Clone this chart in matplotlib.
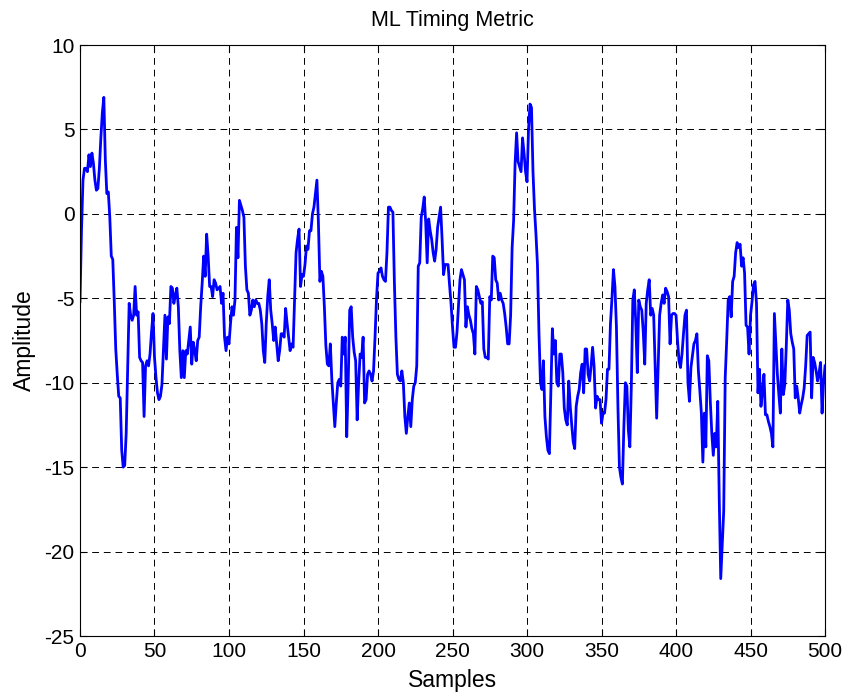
import numpy as np
import matplotlib
matplotlib.use('Agg')
import matplotlib.pyplot as plt

plt.rcParams['font.family'] = ['Liberation Sans', 'DejaVu Sans']
plt.rcParams['axes.unicode_minus'] = False

# ML timing metric, one value per sample
amp = [
    -5.2, -1.0, 2.0, 2.7, 2.7, 2.5, 3.5, 2.8, 3.6, 3.0,
    2.0, 1.4, 1.5, 2.7, 4.5, 6.0, 6.9, 3.2, 1.2, 1.3,
    -0.2, -2.5, -2.7, -5.2, -8.0, -9.5, -10.8, -10.9, -14.0, -15.0,
    -14.9, -13.0, -9.1, -5.3, -6.0, -6.3, -6.0, -4.3, -6.0, -5.8,
    -8.5, -8.7, -8.8, -12.0, -9.0, -8.7, -9.0, -8.3, -7.0, -5.9,
    -8.5, -9.7, -10.6, -11.0, -10.8, -10.1, -8.1, -6.0, -8.6, -6.1,
    -6.5, -4.3, -4.4, -5.3, -4.8, -4.4, -5.5, -8.1, -9.7, -8.1,
    -9.7, -8.1, -8.3, -7.5, -6.7, -8.9, -7.6, -8.1, -8.7, -7.5,
    -7.3, -5.5, -4.1, -2.5, -3.7, -1.2, -2.5, -4.3, -4.3, -4.9,
    -3.9, -4.1, -4.5, -4.4, -4.3, -5.3, -4.7, -7.3, -8.1, -7.3,
    -7.7, -6.5, -5.5, -6.0, -5.1, -0.8, -2.6, 0.8, 0.5, 0.2,
    -0.2, -3.1, -4.5, -4.7, -6.0, -5.7, -5.1, -5.5, -5.1, -5.3,
    -5.3, -5.7, -6.5, -8.1, -8.8, -6.5, -4.9, -3.9, -5.7, -6.5,
    -7.5, -6.7, -7.7, -8.7, -8.1, -7.1, -7.1, -7.3, -5.6, -6.5,
    -7.3, -8.1, -7.7, -7.9, -5.1, -2.3, -1.5, -0.9, -4.3, -3.6,
    -3.7, -3.0, -1.9, -2.1, -1.0, -1.0, 0.0, 0.4, 1.2, 2.0,
    -0.5, -4.0, -3.4, -3.7, -5.5, -7.8, -8.9, -9.0, -7.7, -9.8,
    -11.2, -12.6, -11.2, -10.0, -9.8, -10.2, -7.3, -8.3, -7.3, -13.2,
    -10.0, -5.7, -5.5, -7.3, -8.2, -8.7, -12.2, -10.0, -8.3, -8.5,
    -7.3, -11.2, -11.0, -9.5, -9.3, -9.5, -9.9, -9.3, -7.3, -5.0,
    -3.5, -3.4, -3.2, -3.7, -3.9, -4.0, -2.3, 0.4, 0.4, 0.2,
    0.1, -4.1, -7.3, -9.5, -9.8, -9.9, -9.3, -10.0, -12.0, -13.0,
    -12.0, -11.2, -12.6, -11.0, -10.2, -10.0, -9.0, -3.1, -2.9, -0.2,
    0.3, 1.0, -0.5, -2.9, -0.3, -1.0, -1.5, -2.3, -2.8, -2.1,
    -0.8, -0.2, 0.4, -1.5, -3.6, -3.0, -3.0, -3.0, -4.2, -5.3,
    -6.7, -7.9, -7.9, -7.0, -5.5, -3.9, -3.3, -3.6, -3.9, -6.7,
    -5.5, -6.0, -6.3, -6.8, -7.1, -8.3, -4.3, -4.5, -4.9, -5.3,
    -5.2, -8.0, -8.5, -8.5, -8.6, -4.9, -5.1, -2.5, -2.6, -3.9,
    -4.1, -5.1, -4.7, -5.1, -5.3, -5.9, -6.7, -7.7, -7.7, -6.0,
    -2.0, -0.4, 3.0, 4.8, 3.1, 2.8, 2.5, 4.5, 3.6, 2.5,
    1.9, 5.0, 6.5, 6.3, 2.5, 0.3, -1.2, -3.0, -7.0, -10.0,
    -10.4, -8.7, -12.0, -13.2, -14.0, -14.2, -10.5, -6.8, -8.3, -7.5,
    -10.0, -10.2, -8.3, -8.3, -9.4, -11.5, -12.2, -12.5, -9.9, -11.4,
    -12.5, -13.5, -13.9, -11.4, -10.8, -10.4, -9.4, -8.9, -10.6, -8.0,
    -8.0, -9.5, -9.9, -9.0, -7.9, -9.0, -11.5, -10.8, -11.0, -11.0,
    -12.4, -11.8, -11.8, -11.0, -9.2, -9.2, -6.5, -5.0, -3.3, -4.3,
    -6.7, -11.4, -15.0, -15.6, -16.0, -12.6, -10.0, -10.2, -12.8, -13.8,
    -10.2, -5.1, -4.5, -6.5, -9.4, -5.1, -5.5, -5.7, -7.0, -8.9,
    -5.3, -4.5, -3.9, -6.0, -5.6, -6.0, -9.1, -12.1, -9.0, -6.0,
    -5.3, -4.8, -5.3, -4.4, -4.6, -4.9, -7.7, -6.0, -5.9, -5.9,
    -6.0, -7.5, -8.7, -9.1, -8.3, -7.1, -6.0, -5.7, -10.0, -11.1,
    -9.1, -8.4, -7.7, -7.5, -7.1, -9.3, -10.5, -11.8, -14.7, -11.8,
    -13.8, -8.4, -8.7, -11.1, -13.0, -14.3, -13.0, -13.8, -11.1, -16.9,
    -21.6, -19.6, -17.6, -9.7, -7.5, -5.1, -4.9, -6.1, -4.0, -3.7,
    -2.3, -1.7, -2.0, -1.8, -3.1, -2.6, -3.5, -6.6, -6.7, -8.3,
    -6.0, -5.2, -4.2, -4.0, -5.3, -10.6, -9.2, -11.4, -10.5, -9.5,
    -11.9, -11.9, -12.3, -12.6, -13.0, -13.8, -5.9, -7.7, -9.5, -10.7,
    -11.8, -8.0, -10.7, -10.1, -7.8, -5.1, -5.7, -7.1, -7.6, -8.0,
    -10.9, -10.2, -10.9, -11.8, -11.3, -10.9, -10.3, -9.0, -7.2, -7.1,
    -7.0, -10.9, -8.5, -8.8, -9.3, -9.9, -9.4, -8.8, -11.8, -10.0,
    -9.0,
]
samples = np.arange(len(amp))

xticks = np.arange(0, 501, 50)
yticks = np.arange(-25, 11, 5)

fig = plt.figure(figsize=(8.51, 6.99), dpi=100, facecolor='w')
ax = fig.add_axes([0.094, 0.0901, 0.8755, 0.8455])
ax.plot(samples, amp, color=(0, 0, 1), linewidth=2)

ax.set_xlim(0, 500)
ax.set_ylim(-25, 10)
ax.set_xticks(xticks)
ax.set_yticks(yticks)
ax.tick_params(direction='in', length=5, width=0.8, top=True, right=True,
               labelsize=15, pad=4)
ax.grid(True, color='k', linestyle=(0, (7, 5)), linewidth=0.7)
for s in ax.spines.values():
    s.set_linewidth(0.8)

ax.set_title('ML Timing Metric', fontsize=15.5, pad=14)
ax.set_xlabel('Samples', fontsize=16.5, labelpad=6)
ax.set_ylabel('Amplitude', fontsize=16.5, labelpad=6)

fig.savefig('out.png', dpi=100)
